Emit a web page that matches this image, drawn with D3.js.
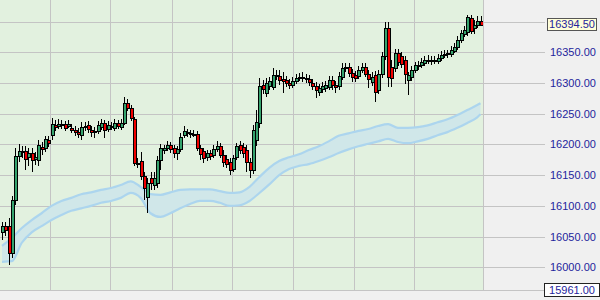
<!DOCTYPE html>
<html>
<head>
<meta charset="utf-8">
<script src="https://cdn.jsdelivr.net/npm/d3@7"></script>
<style>
  body { margin: 0; background: #f0f0f0; }
  svg { display: block; }
</style>
</head>
<body>
<div id="chart"></div>
<script>
// candle data, one entry per bar
const open = [
  16057,16067,16067,16023,16110,16181,16189,16189,16179,16186,
  16176,16175,16196,16194,16207,16215,16231,16230,16233,16233,
  16230,16227,16223,16220,16215,16228,16231,16223,16220,16222,
  16228,16235,16225,16228,16227,16235,16228,16235,16267,16259,
  16241,16170,16173,16149,16114,16145,16134,16137,16175,16191,
  16194,16199,16194,16186,16192,16215,16220,16219,16217,16217,
  16194,16189,16179,16186,16183,16192,16197,16183,16176,16171,
  16160,16179,16199,16196,16191,16171,16158,16207,16235,16297,
  16284,16295,16293,16313,16311,16306,16305,16300,16297,16303,
  16308,16310,16308,16306,16300,16295,16285,16290,16292,16293,
  16305,16297,16295,16310,16324,16326,16316,16313,16311,16321,
  16326,16315,16301,16313,16288,16315,16344,16389,16326,16324,
  16349,16344,16337,16305,16310,16321,16327,16329,16332,16337,
  16337,16336,16336,16341,16345,16347,16347,16352,16358,16370,
  16380,16383,16406,16389,16394,16401
];
const high = [
  16074,16074,16080,16116,16194,16201,16197,16197,16194,16194,
  16188,16207,16204,16214,16214,16243,16240,16241,16240,16238,
  16240,16233,16230,16227,16236,16236,16238,16230,16228,16238,
  16241,16240,16238,16236,16241,16240,16241,16277,16274,16264,
  16245,16178,16188,16155,16145,16155,16155,16181,16201,16199,
  16205,16204,16199,16197,16219,16230,16225,16223,16223,16222,
  16199,16194,16191,16191,16199,16205,16202,16191,16183,16178,
  16183,16202,16205,16202,16199,16178,16231,16256,16308,16305,
  16308,16310,16324,16321,16321,16318,16311,16306,16310,16314,
  16316,16318,16314,16313,16306,16301,16298,16301,16303,16311,
  16311,16303,16318,16332,16332,16332,16323,16319,16328,16332,
  16332,16321,16318,16319,16321,16350,16399,16399,16337,16355,
  16355,16350,16344,16318,16328,16334,16336,16341,16344,16345,
  16344,16344,16347,16352,16354,16354,16360,16365,16376,16386,
  16393,16411,16411,16402,16409,16409
];
const low = [
  16044,16051,16004,16015,16101,16171,16178,16158,16165,16155,
  16166,16165,16183,16188,16196,16207,16222,16225,16225,16222,
  16227,16219,16214,16210,16207,16222,16219,16212,16210,16217,
  16223,16210,16220,16223,16222,16225,16223,16231,16254,16238,
  16165,16162,16142,16110,16088,16126,16126,16129,16158,16184,
  16189,16186,16178,16175,16188,16210,16212,16210,16212,16189,
  16175,16170,16173,16175,16178,16188,16178,16163,16162,16150,
  16155,16175,16184,16178,16155,16145,16152,16197,16227,16282,
  16277,16288,16288,16305,16297,16284,16293,16290,16292,16298,
  16303,16301,16300,16295,16288,16275,16279,16284,16285,16288,
  16288,16284,16288,16305,16318,16310,16301,16301,16306,16316,
  16310,16292,16295,16269,16282,16308,16337,16293,16293,16318,
  16328,16324,16298,16280,16303,16316,16321,16324,16328,16331,
  16329,16331,16331,16336,16341,16341,16342,16349,16354,16365,
  16375,16376,16380,16380,16389,16393
];
const close = [
  16067,16061,16023,16110,16181,16189,16188,16176,16186,16175,
  16179,16199,16192,16209,16202,16233,16228,16233,16231,16227,
  16233,16223,16220,16217,16228,16230,16225,16220,16222,16231,
  16235,16223,16231,16230,16235,16230,16235,16267,16259,16243,
  16170,16169,16149,16129,16137,16137,16145,16175,16194,16194,
  16199,16192,16186,16192,16212,16222,16219,16217,16216,16194,
  16184,16178,16186,16181,16192,16197,16183,16171,16168,16158,
  16178,16197,16191,16186,16171,16158,16223,16236,16295,16290,
  16300,16303,16313,16311,16305,16303,16300,16297,16303,16308,
  16310,16308,16306,16301,16295,16288,16292,16295,16297,16305,
  16297,16293,16311,16324,16326,16316,16310,16308,16321,16326,
  16315,16306,16310,16285,16315,16344,16389,16310,16308,16349,
  16334,16331,16315,16313,16321,16329,16329,16334,16337,16338,
  16336,16337,16341,16345,16347,16348,16354,16358,16370,16381,
  16386,16407,16385,16394,16401,16394.5
];

// envelope band, sampled at these bar indices
const bandIdx = [0,3,6,9,12,15,18,21,24,27,30,33,36,39,42,45,48,51,54,57,
  60,63,66,69,72,75,78,81,84,87,90,93,96,99,102,105,108,111,114,117,
  120,123,126,129,132,135,138,141,144,145];
const bandUpper = [16035,16048,16064,16077,16088,16100,16108,16113,16119,16122,
  16126,16129,16134,16140,16131,16119,16118,16122,16126,16127,
  16127,16127,16124,16121,16122,16131,16147,16162,16173,16179,
  16184,16191,16197,16205,16214,16218,16222,16225,16230,16233,
  16227,16227,16228,16231,16236,16241,16248,16256,16264,16267];
const bandLower = [16009,16010,16040,16057,16067,16077,16085,16092,16096,16100,
  16105,16108,16113,16121,16113,16088,16082,16088,16096,16103,
  16108,16108,16105,16100,16101,16108,16121,16135,16150,16160,
  16165,16168,16173,16179,16186,16192,16197,16201,16205,16209,
  16204,16202,16205,16209,16215,16220,16227,16235,16244,16249];

// axis
const priceTicks = [16000,16050,16100,16150,16200,16250,16300,16350,16400];
const labelTicks = [16000,16050,16100,16150,16200,16250,16300,16350];
const timeGrid = [14.5, 32.7, 51.5, 69.7, 88.2, 106.7, 124.8]; // bar positions of vertical grid
const lastPrice = 16394.5;
const minPrice = 15961;

const width = 600, height = 300;
const plotW = 483, axisX = 545;

const svg = d3.select("#chart")
  .append("svg")
  .attr("width", width)
  .attr("height", height);

const x = d3.scaleLinear().domain([0, open.length - 1]).range([2, 480.5]);
const y = d3.scaleLinear().domain([minPrice, 16435]).range([291.3, 0]);
const plotH = Math.round(y(minPrice));

svg.append("rect")
  .attr("width", width).attr("height", height)
  .attr("fill", "#f0f0f0");

svg.append("rect")
  .attr("width", plotW).attr("height", plotH)
  .attr("fill", "#e2f1df");

const crisp = (v) => Math.round(v) + 0.5;

// horizontal grid + labels via the axis
const axis = svg.append("g")
  .attr("transform", `translate(${axisX},0)`)
  .call(d3.axisRight(y).tickValues(priceTicks).tickSize(-axisX).tickPadding(5)
    .tickFormat((d) => labelTicks.includes(d) ? d3.format(".2f")(d) : ""));
axis.select(".domain").remove();
axis.selectAll(".tick line")
  .attr("stroke", "#c4c4c4")
  .attr("shape-rendering", "crispEdges");
axis.selectAll(".tick text")
  .style("font-family", "'Liberation Sans', Arial, sans-serif")
  .style("font-size", "11px")
  .attr("fill", "#24249c");

// bottom border
svg.append("line")
  .attr("x1", 0).attr("x2", axisX)
  .attr("y1", plotH - 0.5).attr("y2", plotH - 0.5)
  .attr("stroke", "#c4c4c4");

// vertical grid
svg.append("g")
  .selectAll("line")
  .data(timeGrid.concat([null]))
  .join("line")
  .attr("x1", (d) => d === null ? plotW + 0.5 : crisp(x(d)))
  .attr("x2", (d) => d === null ? plotW + 0.5 : crisp(x(d)))
  .attr("y1", 0).attr("y2", plotH)
  .attr("stroke", "#c4c4c4");

// envelope band
const band = bandIdx.map((d, i) => ({ i: d, u: bandUpper[i], l: bandLower[i] }));
svg.append("clipPath").attr("id", "plotclip")
  .append("rect").attr("width", plotW).attr("height", plotH);
const bandG = svg.append("g").attr("clip-path", "url(#plotclip)");

bandG.append("path")
  .datum(band)
  .attr("fill", "#d0e7e9")
  .attr("d", d3.area().curve(d3.curveMonotoneX)
    .x((d) => x(d.i)).y0((d) => y(d.l)).y1((d) => y(d.u)));
["u", "l"].forEach((k) => {
  bandG.append("path")
    .datum(band)
    .attr("fill", "none")
    .attr("stroke", "#acd5ee")
    .attr("stroke-width", 2.2)
    .attr("d", d3.line().curve(d3.curveMonotoneX)
      .x((d) => x(d.i)).y((d) => y(d[k])));
});

// candles
const bars = open.map((o, i) => ({ i, o, h: high[i], l: low[i], c: close[i] }));
const candle = svg.append("g").attr("clip-path", "url(#plotclip)")
  .selectAll("g")
  .data(bars)
  .join("g");

candle.append("line")
  .attr("x1", (d) => crisp(x(d.i)))
  .attr("x2", (d) => crisp(x(d.i)))
  .attr("y1", (d) => Math.round(y(d.h)))
  .attr("y2", (d) => Math.round(y(d.l)))
  .attr("stroke", "#000");

candle.append("rect")
  .attr("x", (d) => Math.round(x(d.i)) - 1 + 0.5)
  .attr("y", (d) => Math.round(y(Math.max(d.o, d.c))) + 0.5)
  .attr("width", 3)
  .attr("height", (d) => Math.max(1, Math.round(y(Math.min(d.o, d.c))) - Math.round(y(Math.max(d.o, d.c)))))
  .attr("fill", (d) => d.c >= d.o ? "#35a36d" : "#f00000")
  .attr("stroke", "#000")
  .attr("shape-rendering", "crispEdges");

// price boxes
function priceBox(value, x0, y0, w, h, fill, stroke) {
  const g = svg.append("g");
  g.append("rect")
    .attr("x", x0 + 0.5).attr("y", y0 + 0.5)
    .attr("width", w).attr("height", h)
    .attr("fill", fill)
    .attr("stroke", stroke);
  g.append("text")
    .attr("x", x0 + w / 2 + 0.5).attr("y", y0 + h / 2 + 0.5)
    .attr("dy", "0.36em")
    .attr("text-anchor", "middle")
    .style("font-family", "'Liberation Sans', Arial, sans-serif")
    .style("font-size", "11px")
    .attr("fill", "#24249c")
    .text(d3.format(".2f")(value));
}
priceBox(lastPrice, 547, Math.round(y(lastPrice)) - 7, 49, 12, "#ffffd9", "#555");
priceBox(minPrice, 544, 283, 55, 13, "#ffffff", "#222");
</script>
</body>
</html>
